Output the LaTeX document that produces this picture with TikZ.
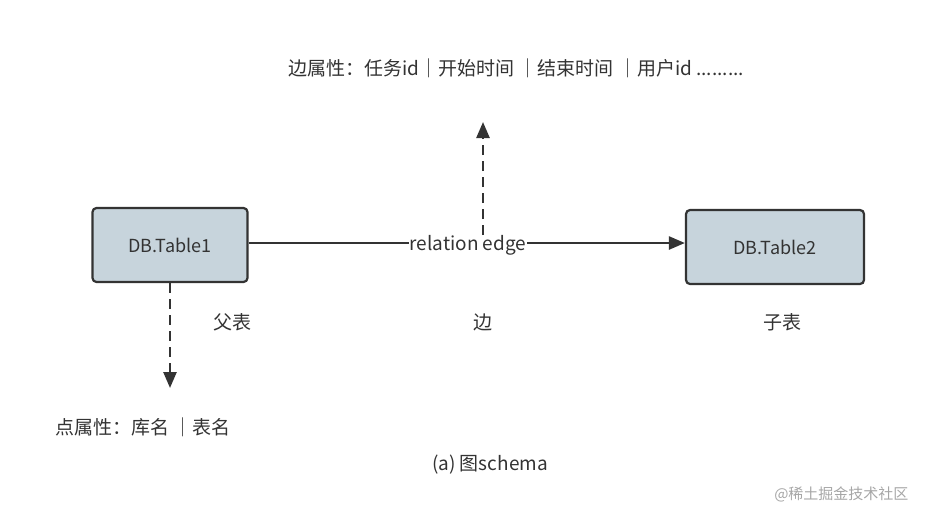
\documentclass[tikz,border=0pt]{standalone}
\usepackage{fontspec}
\setmainfont{Noto Sans CJK SC}
\usetikzlibrary{arrows.meta}
\definecolor{boxfill}{HTML}{C7D4DC}
\definecolor{ink}{HTML}{333333}
\begin{document}
\begin{tikzpicture}[x=1pt,y=-1pt,
  box/.style={draw=ink,line width=2.2pt,fill=boxfill,rounded corners=4pt,minimum width=155pt,minimum height=74pt,font=\fontsize{18}{20}\selectfont,text=ink},
  lbl/.style={font=\fontsize{19}{22}\selectfont,text=ink},
  arr/.style={draw=ink,line width=2.5pt,-{Triangle[length=16pt,width=13pt]}},
  dasharr/.style={arr,dash pattern=on 10pt off 6pt}]
\useasboundingbox (0,0) rectangle (926,520);
\node[box] (t1) at (170,245) {DB.Table1};
\node[box,minimum width=178pt] (t2) at (775,247) {DB.Table2};
\draw[arr] (t1.east|-0,243) -- (t2.west|-0,243);
\node[lbl,fill=white,inner sep=1pt] (re) at (468,245) {relation edge};
\coordinate (up) at (483,122);
\coordinate (upbase) at (483,235);
\draw[dasharr] (upbase) -- (up);
\coordinate (dn) at (170,388);
\draw[dasharr] (t1.south) -- (dn);
\node[lbl,anchor=west] (ea) at (285,68) {边属性：任务id｜开始时间 ｜结束时间 ｜用户id .........};
\node[lbl,anchor=west] (na) at (52,427) {点属性：库名 ｜表名};
\node[lbl] (f) at (232,322) {父表};
\node[lbl] (e) at (483,322) {边};
\node[lbl] (z) at (782,322) {子表};
\node[lbl] (cap) at (490,465) {(a) 图schema};
\node[font=\fontsize{15}{18}\selectfont,text=gray!70,anchor=east] (wm) at (912,494) {@稀土掘金技术社区};
\end{tikzpicture}
\end{document}
